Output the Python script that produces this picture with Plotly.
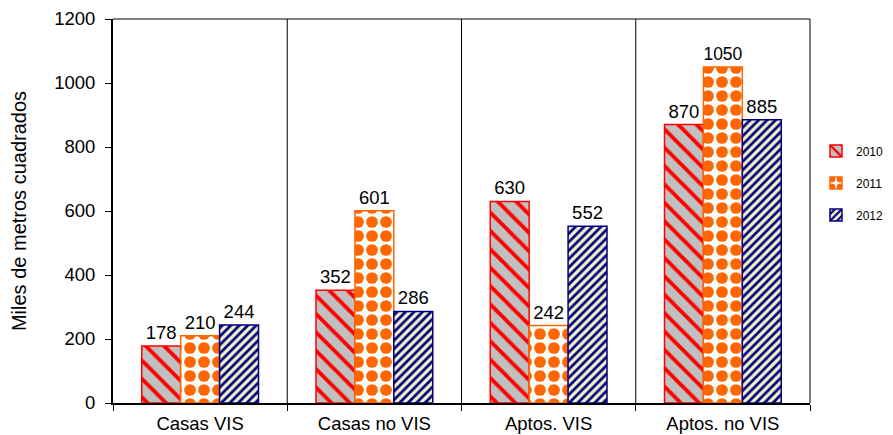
import plotly.graph_objects as go

categories = ["Casas VIS", "Casas no VIS", "Aptos. VIS", "Aptos. no VIS"]
years = ["2010", "2011", "2012"]
v2010 = [178, 352, 630, 870]
v2011 = [210, 601, 242, 1050]
v2012 = [244, 286, 552, 885]
yticks = [0, 200, 400, 600, 800, 1000, 1200]

styles = {
    "2010": dict(line="#FF0000", fg="#FF0000", bg="#C0C0C0", shape="\\", size=13, sol=0.3),
    "2011": dict(line="#FF6600", fg="#FF6600", bg="#FFFFFF", shape=".", size=14, sol=0.55),
    "2012": dict(line="#000080", fg="#000080", bg="#F2F2C4", shape="/", size=6, sol=0.45),
}

FONT = "Liberation Sans, Arial, sans-serif"

fig = go.Figure()
for name, vals in zip(years, [v2010, v2011, v2012]):
    s = styles[name]
    fig.add_trace(go.Bar(
        x=categories, y=vals, name=name, legendgroup=name,
        text=[str(v) for v in vals], textposition="outside",
        textfont=dict(family=FONT, size=18.5, color="#000000"),
        cliponaxis=False,
        marker=dict(
            color=s["bg"],
            line=dict(color=s["line"], width=1.5),
            pattern=dict(shape=s["shape"], fgcolor=s["fg"], bgcolor=s["bg"],
                         size=s["size"], solidity=s["sol"], fillmode="replace",
                         fgopacity=1),
        ),
    ))

for xb in [0.5, 1.5, 2.5]:
    fig.add_shape(type="line", xref="x", yref="paper", x0=xb, x1=xb, y0=0, y1=1,
                  line=dict(color="#000000", width=1))

fig.update_layout(
    width=885, height=427,
    margin=dict(l=105, r=83, t=11, b=32, autoexpand=False),
    paper_bgcolor="white", plot_bgcolor="white",
    barmode="group", bargap=0.33, bargroupgap=0,
    font=dict(family=FONT, size=18.5, color="#000000"),
    showlegend=True,
    legend=dict(x=1.0086, y=0.573, xanchor="left", yanchor="middle",
                font=dict(size=12), itemwidth=30, tracegroupgap=13,
                bgcolor="rgba(0,0,0,0)"),
)
fig.update_xaxes(
    showline=True, linecolor="#000000", linewidth=2, mirror=False,
    ticks="outside", tickson="boundaries", ticklen=6, tickcolor="#000000",
    tickfont=dict(size=18.5), showgrid=False, ticklabelstandoff=3,
)
fig.update_yaxes(
    range=[0, 1200], tickvals=yticks, ticktext=[str(t) for t in yticks],
    showline=True, linecolor="#000000", linewidth=2,
    ticks="outside", ticklen=6, tickcolor="#000000", tickfont=dict(size=18.5),
    showgrid=False, zeroline=False, ticklabelstandoff=6,
    title=dict(text="Miles de metros cuadrados", font=dict(size=20), standoff=22),
)
fig.add_shape(type="line", xref="paper", yref="paper", x0=0, x1=1, y0=1, y1=1,
              line=dict(color="#000000", width=1))
fig.add_shape(type="line", xref="paper", yref="paper", x0=1, x1=1, y0=0, y1=1,
              line=dict(color="#000000", width=1))

fig.write_html("out.html")
